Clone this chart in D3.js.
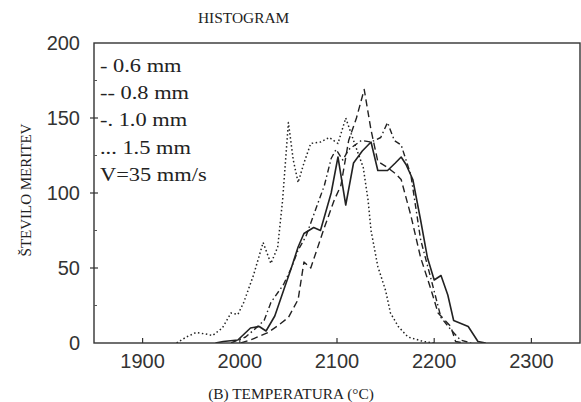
<!DOCTYPE html>
<html>
<head>
<meta charset="utf-8">
<script src="https://cdn.jsdelivr.net/npm/d3@7"></script>
<style>
  html, body { margin: 0; padding: 0; background: #fff; }
  svg { display: block; }
</style>
</head>
<body>
<div id="chart"></div>
<script>
const WIDTH = 581;
const HEIGHT = 402;

// Tick values
const X_TICKS = [1900, 2000, 2100, 2200, 2300];
const Y_TICKS = [0, 50, 100, 150, 200];
const Y_MINOR = [25, 75, 125, 175];

// Legend lines, as printed on the figure
const LEGEND = ["- 0.6 mm", "-- 0.8 mm", "-. 1.0 mm", "... 1.5 mm", "V=35 mm/s"];

// 0.6 mm (solid)
const T06 = [1975, 1983, 1998, 2011, 2020, 2027, 2036, 2045, 2053, 2060, 2066, 2076, 2083, 2094, 2101, 2109, 2117, 2126, 2135, 2142, 2152, 2160, 2166, 2171, 2178, 2186, 2193, 2200, 2207, 2214, 2220, 2235, 2245, 2253];
const N06 = [0, 1, 2, 10, 11, 8, 18, 35, 50, 64, 73, 77, 75, 100, 124, 92, 120, 128, 134, 115, 115, 120, 124, 119, 109, 82, 57, 42, 45, 32, 15, 11, 1, 0];

// 0.8 mm (dashed)
const T08 = [2001, 2011, 2029, 2040, 2050, 2060, 2066, 2073, 2087, 2097, 2104, 2112, 2120, 2128, 2135, 2142, 2152, 2160, 2166, 2176, 2186, 2197, 2204, 2217, 2222, 2230];
const N08 = [0, 2, 7, 12, 17, 29, 54, 50, 77, 95, 105, 135, 150, 169, 142, 121, 117, 113, 109, 85, 57, 35, 20, 11, 1, 0];

// 1.0 mm (dash-dot)
const T10 = [1991, 2006, 2015, 2025, 2032, 2045, 2053, 2060, 2068, 2078, 2087, 2094, 2099, 2106, 2112, 2125, 2135, 2145, 2152, 2159, 2166, 2176, 2186, 2197, 2207, 2217, 2227, 2238];
const N10 = [0, 4, 9, 15, 27, 39, 50, 62, 71, 89, 105, 123, 129, 122, 129, 135, 134, 137, 147, 135, 132, 112, 69, 42, 17, 9, 2, 0];

// 1.5 mm (dotted)
const T15 = [1935, 1945, 1955, 1965, 1972, 1982, 1991, 1998, 2004, 2014, 2024, 2032, 2039, 2044, 2050, 2055, 2060, 2066, 2073, 2083, 2092, 2101, 2109, 2117, 2127, 2132, 2135, 2142, 2150, 2155, 2163, 2173, 2189, 2200];
const N15 = [0, 4, 7, 6, 5, 10, 20, 19, 27, 45, 67, 53, 64, 95, 147, 122, 107, 120, 133, 134, 137, 133, 150, 135, 117, 95, 75, 51, 35, 20, 11, 4, 1, 0];

const SERIES = [
  { name: "0.6 mm", t: T06, n: N06, dash: null, width: 1.6 },
  { name: "0.8 mm", t: T08, n: N08, dash: "7,4", width: 1.4 },
  { name: "1.0 mm", t: T10, n: N10, dash: "6,3,1.5,3", width: 1.4 },
  { name: "1.5 mm", t: T15, n: N15, dash: "1.5,2.5", width: 1.5 },
];

const INK = "#222";
const SERIF = "'Liberation Serif', 'Times New Roman', serif";
const SANS = "'Liberation Sans', Arial, sans-serif";

const x = d3.scaleLinear().domain([1850, 2350]).range([94, 580]);
const y = d3.scaleLinear().domain([0, 200]).range([343, 43]);

const svg = d3.select("#chart").append("svg")
  .attr("width", WIDTH)
  .attr("height", HEIGHT);

svg.append("rect").attr("width", WIDTH).attr("height", HEIGHT).attr("fill", "#fff");

svg.append("clipPath").attr("id", "plot")
  .append("rect")
  .attr("x", x(1850)).attr("y", y(200))
  .attr("width", x(2350) - x(1850)).attr("height", y(0) - y(200));

// curves
const line = d3.line()
  .x((d) => x(d[0]))
  .y((d) => y(d[1]));

svg.append("g").attr("clip-path", "url(#plot)")
  .selectAll("path")
  .data(SERIES)
  .join("path")
  .attr("d", (s) => line(s.t.map((t, i) => [t, s.n[i]])))
  .attr("fill", "none")
  .attr("stroke", INK)
  .attr("stroke-width", (s) => s.width)
  .attr("stroke-dasharray", (s) => s.dash)
  .attr("stroke-linejoin", "round");

// frame
svg.append("rect")
  .attr("x", x(1850)).attr("y", y(200))
  .attr("width", x(2350) - x(1850)).attr("height", y(0) - y(200))
  .attr("fill", "none")
  .attr("stroke", "#333")
  .attr("stroke-width", 1.4);

// y ticks
svg.append("g").selectAll("line")
  .data(Y_TICKS.slice(1, -1))
  .join("line")
  .attr("x1", x(1850) - 4).attr("x2", x(1850) + 4)
  .attr("y1", (d) => y(d)).attr("y2", (d) => y(d))
  .attr("stroke", "#333").attr("stroke-width", 1.2);

svg.append("g").selectAll("line")
  .data(Y_MINOR)
  .join("line")
  .attr("x1", x(1850)).attr("x2", x(1850) + 3)
  .attr("y1", (d) => y(d)).attr("y2", (d) => y(d))
  .attr("stroke", "#555").attr("stroke-width", 1);

svg.append("g").selectAll("text")
  .data(Y_TICKS)
  .join("text")
  .attr("x", 80)
  .attr("y", (d) => y(d))
  .attr("dy", "0.36em")
  .attr("text-anchor", "end")
  .attr("font-family", SANS)
  .attr("font-size", 20)
  .attr("fill", "#333")
  .text((d) => d);

// x ticks
svg.append("g").selectAll("line")
  .data(X_TICKS)
  .join("line")
  .attr("x1", (d) => x(d)).attr("x2", (d) => x(d))
  .attr("y1", y(0)).attr("y2", y(0) - 5)
  .attr("stroke", "#333").attr("stroke-width", 1.2);

svg.append("g").selectAll("text")
  .data(X_TICKS)
  .join("text")
  .attr("x", (d) => x(d))
  .attr("y", 368)
  .attr("text-anchor", "middle")
  .attr("font-family", SANS)
  .attr("font-size", 20)
  .attr("fill", "#333")
  .text((d) => d);

// stretched serif text, like the scanned figure
function serifText(tx, ty, str, size, sx, anchor) {
  svg.append("text")
    .attr("transform", `translate(${tx},${ty}) scale(${sx},1)`)
    .attr("text-anchor", anchor || "start")
    .attr("font-family", SERIF)
    .attr("font-size", size)
    .attr("fill", INK)
    .text(str);
}

serifText(198, 23, "HISTOGRAM", 14, 1.1);
serifText(291, 399, "(B) TEMPERATURA (°C)", 14, 1.1, "middle");

LEGEND.forEach((s, i) => serifText(100, 72 + i * 27.2, s, 19, 1.18));

svg.append("text")
  .attr("transform", "translate(31,190) rotate(-90)")
  .attr("text-anchor", "middle")
  .attr("font-family", SERIF)
  .attr("font-size", 15)
  .attr("fill", INK)
  .text("ŠTEVILO MERITEV");
</script>
</body>
</html>
